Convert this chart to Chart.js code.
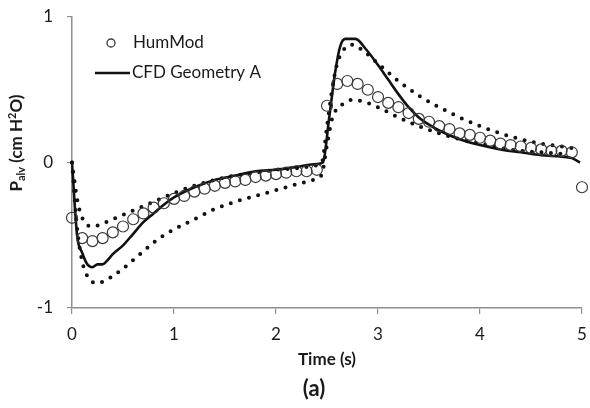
<!DOCTYPE html>
<html>
<head>
<meta charset="utf-8">
<script src="https://cdn.jsdelivr.net/npm/chart.js@4/dist/chart.umd.min.js"></script>
<style>
  html, body { margin: 0; padding: 0; background: #fff; }
  #wrap { width: 590px; height: 408px; }
</style>
</head>
<body>
<div id="wrap"><canvas id="myCanvas" width="590" height="408"></canvas></div>
<script>
// HumMod samples (every 0.1 s)
const humTime = [0, 0.1, 0.2, 0.3, 0.4, 0.5, 0.6, 0.7, 0.8, 0.9,
    1.0, 1.1, 1.2, 1.3, 1.4, 1.5, 1.6, 1.7, 1.8, 1.9,
    2.0, 2.1, 2.2, 2.3, 2.4, 2.5, 2.6, 2.7, 2.8, 2.9,
    3.0, 3.1, 3.2, 3.3, 3.4, 3.5, 3.6, 3.7, 3.8, 3.9,
    4.0, 4.1, 4.2, 4.3, 4.4, 4.5, 4.6, 4.7, 4.8, 4.9, 5.0];
const humP = [-0.38, -0.52, -0.54, -0.52, -0.48, -0.44, -0.39, -0.35, -0.31, -0.28,
    -0.25, -0.23, -0.20, -0.18, -0.16, -0.14, -0.13, -0.12, -0.10, -0.09,
    -0.08, -0.07, -0.06, -0.06, -0.05, 0.39, 0.54, 0.56, 0.54, 0.50,
    0.45, 0.41, 0.38, 0.34, 0.30, 0.28, 0.25, 0.23, 0.20, 0.19,
    0.17, 0.15, 0.13, 0.12, 0.11, 0.10, 0.09, 0.08, 0.08, 0.07, -0.17];

// CFD Geometry A (solid)
const cfdTime = [0, 0.05, 0.1, 0.15, 0.2, 0.25, 0.3, 0.35, 0.4, 0.5, 0.6, 0.7, 0.8, 0.9, 1.0,
    1.2, 1.4, 1.6, 1.8, 2.0, 2.2, 2.4, 2.46, 2.52, 2.58, 2.63, 2.68, 2.78, 2.88,
    3.0, 3.1, 3.2, 3.3, 3.4, 3.5, 3.6, 3.8, 4.0, 4.2, 4.4, 4.6, 4.8, 4.9, 4.98];
const cfdP = [0, -0.5, -0.62, -0.7, -0.72, -0.7, -0.7, -0.67, -0.63, -0.57, -0.49, -0.41, -0.35, -0.29, -0.24,
    -0.17, -0.12, -0.09, -0.06, -0.05, -0.03, -0.01, 0.0, 0.3, 0.62, 0.8, 0.85, 0.85, 0.78,
    0.67, 0.57, 0.47, 0.38, 0.31, 0.26, 0.22, 0.16, 0.12, 0.09, 0.07, 0.05, 0.04, 0.03, 0.0];

// upper dotted bound
const upTime = [0, 0.05, 0.1, 0.2, 0.3, 0.4, 0.5, 0.6, 0.7, 0.8, 0.9, 1.0, 1.2, 1.4, 1.6, 1.8,
    2.0, 2.2, 2.4, 2.45, 2.5, 2.55, 2.6, 2.7, 2.75, 2.85, 3.0, 3.2, 3.4, 3.6, 3.8,
    4.0, 4.2, 4.4, 4.6, 4.8, 4.9];
const upP = [0, -0.25, -0.38, -0.44, -0.42, -0.39, -0.36, -0.33, -0.30, -0.27, -0.24, -0.21, -0.16, -0.12, -0.09, -0.07,
    -0.05, -0.04, -0.02, 0.0, 0.25, 0.5, 0.68, 0.8, 0.81, 0.77, 0.68, 0.56, 0.46, 0.38, 0.31,
    0.25, 0.2, 0.16, 0.13, 0.11, 0.1];

// lower dotted bound
const lowTime = [0, 0.05, 0.1, 0.15, 0.24, 0.3, 0.4, 0.5, 0.6, 0.7, 0.8, 0.9, 1.0, 1.2, 1.4, 1.6,
    1.8, 2.0, 2.2, 2.4, 2.45, 2.5, 2.55, 2.65, 2.75, 2.85, 3.0, 3.2, 3.4, 3.6, 3.8,
    4.0, 4.2, 4.4, 4.6, 4.8];
const lowP = [0, -0.45, -0.68, -0.78, -0.83, -0.82, -0.78, -0.73, -0.67, -0.61, -0.55, -0.5, -0.46, -0.39, -0.32, -0.27,
    -0.23, -0.19, -0.15, -0.11, -0.08, 0.12, 0.3, 0.4, 0.43, 0.42, 0.38, 0.31, 0.25, 0.2, 0.16,
    0.13, 0.1, 0.08, 0.07, 0.06];

const xTicks = [0, 1, 2, 3, 4, 5];
const yTicks = [-1, 0, 1];

const FONT = 'Lato, "Open Sans", sans-serif';
const axisGray = '#8f8f8f';

function pairs(xs, ys) {
    return xs.map(function (x, i) { return { x: x, y: ys[i] }; });
}

function dotted(label, xs, ys) {
    return {
        label: label,
        data: pairs(xs, ys),
        showLine: true,
        borderColor: '#111',
        borderWidth: 4,
        borderDash: [0, 9.5],
        borderCapStyle: 'round',
        pointRadius: 0,
        fill: false,
        clip: false,
        cubicInterpolationMode: 'monotone',
        showInLegend: false
    };
}

const titlesPlugin = {
    id: 'titles',
    afterDraw: function (chart) {
        const ctx = chart.ctx;
        ctx.save();
        ctx.fillStyle = '#1a1a1a';
        ctx.textBaseline = 'middle';

        // y title, rotated: P_alv (cm H²O)
        const parts = [
            { t: 'P', f: 'bold 17px ' + FONT, dy: 0 },
            { t: 'alv', f: 'bold 11px ' + FONT, dy: 4 },
            { t: ' (cm H', f: 'bold 17px ' + FONT, dy: 0 },
            { t: '2', f: 'bold 11px ' + FONT, dy: -5 },
            { t: 'O)', f: 'bold 17px ' + FONT, dy: 0 }
        ];
        let total = 0;
        parts.forEach(function (p) { ctx.font = p.f; p.w = ctx.measureText(p.t).width; total += p.w; });
        ctx.translate(17, 143);
        ctx.rotate(-Math.PI / 2);
        let x = -total / 2;
        ctx.textAlign = 'left';
        parts.forEach(function (p) { ctx.font = p.f; ctx.fillText(p.t, x, p.dy); x += p.w; });
        ctx.setTransform(1, 0, 0, 1, 0, 0);

        // x title and panel label
        ctx.textAlign = 'center';
        ctx.font = 'bold 17px ' + FONT;
        ctx.fillText('Time (s)', 327, 360);
        ctx.font = 'bold 22px ' + FONT;
        ctx.fillText('(a)', 314, 389);

        // legend
        const rows = chart.data.datasets.filter(function (d) { return d.showInLegend !== false; });
        ctx.textAlign = 'left';
        ctx.font = '17px ' + FONT;
        rows.forEach(function (d, i) {
            const y = 43 + i * 30;
            if (d.showLine === false) {
                ctx.beginPath();
                ctx.arc(111, y, 4, 0, Math.PI * 2);
                ctx.lineWidth = 1.3;
                ctx.strokeStyle = d.pointBorderColor;
                ctx.stroke();
                ctx.fillStyle = '#1a1a1a';
                ctx.fillText(d.label, 133, y);
            } else {
                ctx.beginPath();
                ctx.moveTo(95, y);
                ctx.lineTo(130, y);
                ctx.lineWidth = d.borderWidth;
                ctx.strokeStyle = d.borderColor;
                ctx.stroke();
                ctx.fillStyle = '#1a1a1a';
                ctx.fillText(d.label, 132, y);
            }
        });
        ctx.restore();
    }
};

const canvas = document.getElementById('myCanvas');
new Chart(canvas.getContext('2d'), {
    type: 'scatter',
    data: {
        datasets: [
            {
                label: 'HumMod',
                data: pairs(humTime, humP),
                showLine: false,
                pointStyle: 'circle',
                pointRadius: 5.5,
                pointBackgroundColor: 'rgba(255,255,255,0)',
                pointBorderColor: '#3a3a3a',
                pointBorderWidth: 1.2,
                clip: false,
                order: 0
            },
            {
                label: 'CFD Geometry A',
                data: pairs(cfdTime, cfdP),
                showLine: true,
                borderColor: '#111',
                borderWidth: 2.6,
                pointRadius: 0,
                clip: false,
                cubicInterpolationMode: 'monotone',
                order: 1
            },
            Object.assign(dotted('upper', upTime, upP), { order: 2 }),
            Object.assign(dotted('lower', lowTime, lowP), { order: 3 })
        ]
    },
    options: {
        responsive: false,
        animation: false,
        layout: { padding: { left: 0, right: 8, top: 17, bottom: 0 } },
        plugins: {
            legend: { display: false },
            tooltip: { enabled: false }
        },
        scales: {
            x: {
                type: 'linear',
                min: 0,
                max: 5,
                afterBuildTicks: function (scale) { scale.ticks = xTicks.map(function (v) { return { value: v }; }); },
                afterFit: function (scale) {
                    scale.height = 100;
                    scale.paddingLeft = 0;
                    scale.paddingRight = 0;
                },
                grid: { display: true, drawOnChartArea: false, drawTicks: true, tickLength: 6, color: axisGray, lineWidth: 1.2 },
                border: { display: true, color: axisGray, width: 1.5 },
                ticks: { color: '#1a1a1a', font: { family: FONT, size: 17 }, padding: 10, maxRotation: 0 }
            },
            y: {
                type: 'linear',
                min: -1,
                max: 1,
                afterBuildTicks: function (scale) { scale.ticks = yTicks.map(function (v) { return { value: v }; }); },
                afterFit: function (scale) {
                    scale.width = 72;
                    scale.paddingTop = 0;
                    scale.paddingBottom = 0;
                },
                grid: { display: true, drawOnChartArea: false, drawTicks: true, tickLength: 5, color: axisGray, lineWidth: 1.2 },
                border: { display: true, color: axisGray, width: 1.5 },
                ticks: { color: '#1a1a1a', font: { family: FONT, size: 17 }, padding: 14 }
            }
        }
    },
    plugins: [titlesPlugin]
});
</script>
</body>
</html>
